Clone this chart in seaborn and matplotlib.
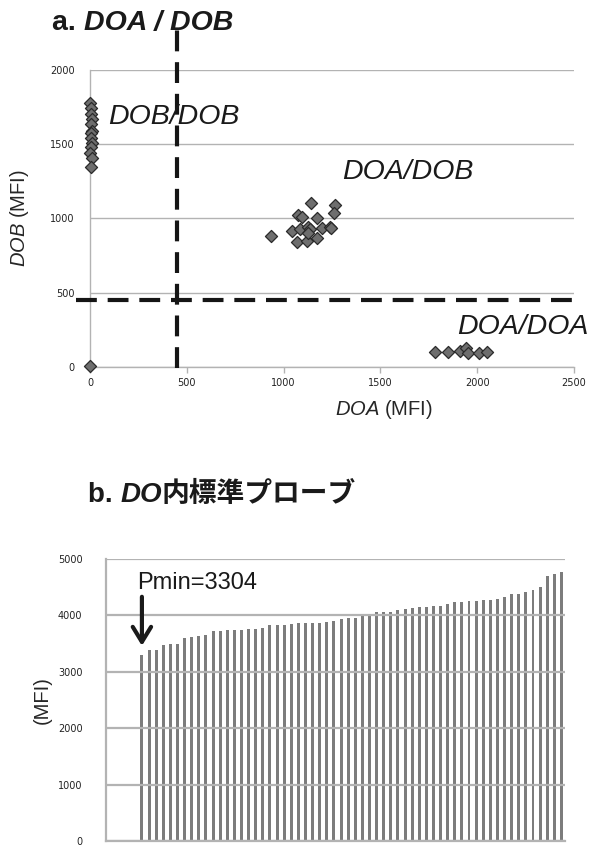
import matplotlib
matplotlib.use("Agg")
import matplotlib.pyplot as plt
from matplotlib import transforms as mtransforms
import numpy as np
import pandas as pd
import seaborn as sns

# ---- panel a: DOA / DOB genotype scatter (MFI) ----
dob_dob_x = [2, 6, 3, 9, 4, 11, 6, 3, 12, 5, 2, 8, 4]
dob_dob_y = [1779, 1741, 1703, 1667, 1634, 1588, 1573, 1540, 1506, 1479, 1443, 1405, 1348]
doa_dob_x = [1141, 1264, 1260, 1076, 1093, 1170, 936, 1041, 1085, 1127,
             1136, 1199, 1238, 1246, 1067, 1123, 1170, 1127]
doa_dob_y = [1106, 1090, 1038, 1023, 1012, 1001, 882, 915, 927, 944,
             927, 937, 944, 933, 843, 850, 870, 900]
doa_doa_x = [1784, 1848, 1909, 1943, 1950, 2007, 2049]
doa_doa_y = [103, 103, 108, 126, 92, 96, 100]
blank_x = [0]
blank_y = [5]
cutoff_doa = 450
cutoff_dob = 450

# ---- panel b: DO internal standard probe (MFI), sorted ----
probe_mfi = [3304, 3386, 3390, 3470, 3493, 3500, 3600, 3612, 3640, 3658,
             3723, 3730, 3735, 3738, 3747, 3759, 3762, 3777, 3830, 3832,
             3835, 3842, 3860, 3862, 3865, 3870, 3889, 3907, 3930, 3948,
             3950, 3990, 3992, 4055, 4058, 4066, 4096, 4119, 4137, 4155,
             4157, 4158, 4160, 4197, 4243, 4246, 4248, 4255, 4273, 4275,
             4285, 4320, 4374, 4376, 4415, 4445, 4510, 4704, 4734, 4764]
pmin = 3304

sns.set_theme(style="white")
plt.rcParams["font.family"] = ["Liberation Sans", "Noto Sans CJK JP", "DejaVu Sans"]
plt.rcParams["mathtext.fontset"] = "custom"
plt.rcParams["mathtext.rm"] = "Liberation Sans"
plt.rcParams["mathtext.it"] = "Liberation Sans:italic"
plt.rcParams["mathtext.bf"] = "Liberation Sans:bold"
plt.rcParams["mathtext.bfit"] = "Liberation Sans:italic:bold"

W, H = 589, 847
fig = plt.figure(figsize=(W / 100, H / 100), dpi=100)

grid_c = "#b3b3b3"
mark_c = "#6e6e6e"
bar_c = "#7c7c7c"
ink = "#1a1a1a"
tick_font = dict(family="DejaVu Sans", size=7.0)


def px_axes(left, top, right, bottom):
    return fig.add_axes([left / W, 1 - bottom / H, (right - left) / W, (bottom - top) / H])


def text_run(x, y, pieces, **kw):
    """Draw a row of differently styled text pieces, one after another."""
    renderer = fig.canvas.get_renderer()
    trans = fig.transFigure
    for s, style in pieces:
        t = fig.text(x, y, s, transform=trans, va="center", ha="left", **style, **kw)
        ext = t.get_window_extent(renderer=renderer)
        trans = mtransforms.offset_copy(t.get_transform(), fig=fig, x=ext.width, units="dots")


def style_ticks(ax):
    for lab in ax.get_xticklabels() + ax.get_yticklabels():
        lab.set_fontfamily(tick_font["family"])
        lab.set_fontsize(tick_font["size"])
        lab.set_color("#222222")


# ================= panel a =================
ax1 = px_axes(90, 70, 574, 367)
scatter_df = pd.DataFrame({
    "DOA": dob_dob_x + doa_dob_x + doa_doa_x + blank_x,
    "DOB": dob_dob_y + doa_dob_y + doa_doa_y + blank_y,
})
sns.scatterplot(data=scatter_df, x="DOA", y="DOB", ax=ax1, marker="D", s=38,
                color=mark_c, edgecolor="#2a2a2a", linewidth=0.9, clip_on=False, zorder=4)
ax1.set_xlim(0, 2500)
ax1.set_ylim(0, 2000)
ax1.set_xticks(np.arange(0, 2501, 500))
ax1.set_yticks(np.arange(0, 2001, 500))
ax1.yaxis.grid(True, color=grid_c, lw=1.0)
ax1.xaxis.grid(False)
for s in ["top", "right"]:
    ax1.spines[s].set_visible(False)
for s in ["left", "bottom"]:
    ax1.spines[s].set_color(grid_c)
    ax1.spines[s].set_linewidth(1.0)
ax1.tick_params(axis="x", length=4, color=grid_c, width=1, pad=4, bottom=True)
ax1.tick_params(axis="y", length=0, pad=11)
style_ticks(ax1)
ax1.set_xlabel(r"$\mathit{DOA}$ (MFI)", fontsize=14.5, labelpad=7)
ax1.xaxis.label.set_x((384 - 90) / (574 - 90))
ax1.set_ylabel(r"$\mathit{DOB}$ (MFI)", fontsize=14.5, labelpad=14)

# cut-off lines
ax1.plot([cutoff_doa, cutoff_doa], [-5, 2290], color="#151515", lw=3,
         ls=(0, (5, 2.6)), clip_on=False, zorder=3)
ax1.plot([-72, 2490], [cutoff_dob, cutoff_dob], color="#151515", lw=3,
         ls=(0, (5, 2.6)), clip_on=False, zorder=3)

ax1.text(92, 1682, "DOB/DOB", fontsize=20.5, style="italic", va="center", ha="left", color=ink)
ax1.text(1300, 1312, "DOA/DOB", fontsize=20.5, style="italic", va="center", ha="left", color=ink)
ax1.text(1898, 269, "DOA/DOA", fontsize=20.5, style="italic", va="center", ha="left", color=ink)

bold = dict(fontweight="bold")
bold_it = dict(fontweight="bold", style="italic")
text_run(52 / W, 1 - 23 / H, [("a. ", bold), ("DOA / DOB", bold_it)],
         fontsize=20.5, color=ink)

# ================= panel b =================
ax2 = px_axes(106, 559, 565, 841)
bar_df = pd.DataFrame({"probe": np.arange(len(probe_mfi)), "MFI": probe_mfi})
sns.barplot(data=bar_df, x="probe", y="MFI", ax=ax2, color=bar_c, width=0.42,
            saturation=1, native_scale=True, linewidth=0, edgecolor="none", zorder=1.5)
ax2.set_axisbelow(False)
ax2.set_xlim(-5.05, 59.5)
ax2.set_ylim(0, 5000)
ax2.set_yticks(np.arange(0, 5001, 1000))
ax2.set_xticks([])
ax2.yaxis.grid(True, color=grid_c, lw=1.6)
ax2.xaxis.grid(False)
for s in ["top", "right"]:
    ax2.spines[s].set_visible(False)
for s in ["left", "bottom"]:
    ax2.spines[s].set_color(grid_c)
    ax2.spines[s].set_linewidth(1.6)
ax2.tick_params(axis="y", length=0, pad=17)
style_ticks(ax2)
ax2.set_xlabel("")
ax2.set_ylabel("(MFI)", fontsize=14.5, labelpad=4)

ax2.annotate("", xy=(0, 3460), xytext=(0, 4330),
             arrowprops=dict(arrowstyle="->, head_length=0.9, head_width=0.55",
                             lw=3, color=ink, shrinkA=0, shrinkB=0), zorder=5)
ax2.text(-0.7, 4574, f"Pmin={pmin}", fontsize=17, va="center", ha="left", color=ink)

text_run(88 / W, 1 - 495 / H,
         [("b. ", bold), ("DO", bold_it), ("内標準プローブ", bold)],
         fontsize=20, color=ink)

fig.savefig("out.png", dpi=100)
